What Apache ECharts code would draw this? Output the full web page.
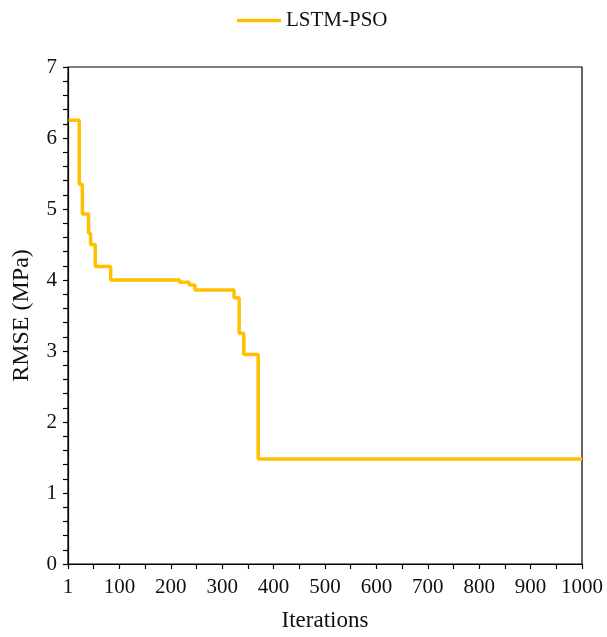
<!DOCTYPE html>
<html>
<head>
<meta charset="utf-8">
<script src="https://cdn.jsdelivr.net/npm/echarts@6/dist/echarts.min.js"></script>
<style>html,body{margin:0;padding:0;background:#fff;}#c{width:607px;height:637px;}</style>
</head>
<body>
<div id="c"></div>
<script>
const seriesName = 'LSTM-PSO';
const iterations = [1, 22, 28, 40, 44, 53, 83, 217, 236, 247, 323, 333, 342, 370, 1000];
const rmse = [6.25, 5.35, 4.93, 4.66, 4.50, 4.19, 4.00, 3.97, 3.93, 3.86, 3.75, 3.25, 2.95, 1.48, 1.48];
const xAxisTitle = 'Iterations';
const yAxisTitle = 'RMSE (MPa)';

const font = '"Liberation Serif", "Times New Roman", serif';
const chart = echarts.init(document.getElementById('c'));
chart.setOption({
  animation: false,
  textStyle: { fontFamily: font, color: '#000' },
  legend: {
    left: 232, top: 5,
    itemWidth: 44, itemHeight: 14, itemGap: 5,
    textStyle: { fontFamily: font, fontSize: 21, color: '#111' },
    data: [{ name: seriesName, icon: 'path://M0,0 L44,0 L44,3.5 L0,3.5 Z' }]
  },
  grid: { left: 68, right: 25, top: 67, bottom: 70, show: true, borderColor: '#000', borderWidth: 1.2, backgroundColor: 'transparent' },
  xAxis: {
    type: 'value', min: 0, max: 1000, interval: 50,
    name: xAxisTitle, nameLocation: 'middle', nameGap: 45,
    nameTextStyle: { fontFamily: font, fontSize: 23, color: '#111' },
    axisLine: { lineStyle: { color: '#000', width: 1.2 } },
    axisTick: { length: 5, lineStyle: { color: '#000', width: 1.2 } },
    axisLabel: { fontFamily: font, fontSize: 21, color: '#111', margin: 13, showMaxLabel: true,
      formatter: v => v === 0 ? '1' : (v % 100 === 0 ? String(v) : '') },
    splitLine: { show: false }
  },
  yAxis: {
    type: 'value', min: 0, max: 7, interval: 1,
    name: yAxisTitle, nameLocation: 'middle', nameGap: 34,
    nameTextStyle: { fontFamily: font, fontSize: 24, color: '#111' },
    axisLine: { show: true, lineStyle: { color: '#000', width: 1.2 } },
    axisTick: { show: true, length: 5, lineStyle: { color: '#000', width: 1.2 } },
    minorTick: { show: true, splitNumber: 5, length: 5, lineStyle: { color: '#000', width: 1.2 } },
    axisLabel: { fontFamily: font, fontSize: 21, color: '#111', margin: 11 },
    splitLine: { show: false }
  },
  series: [{
    name: seriesName, type: 'line', step: 'end', showSymbol: false, symbol: 'none',
    lineStyle: { color: '#FFC000', width: 3.5 },
    itemStyle: { color: '#FFC000' },
    data: iterations.map((x, i) => [x, rmse[i]])
  }]
});
</script>
</body>
</html>
